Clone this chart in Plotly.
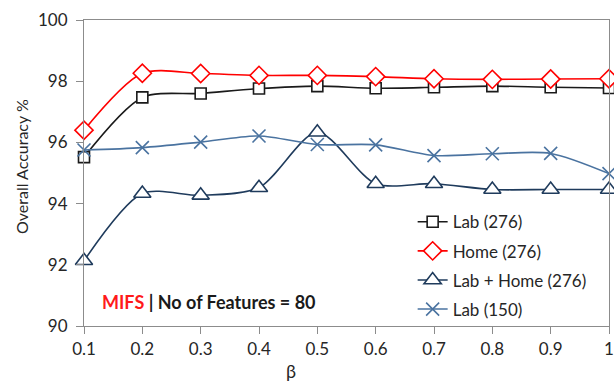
import plotly.graph_objects as go

# beta values on the x axis
beta = [0.1, 0.2, 0.3, 0.4, 0.5, 0.6, 0.7, 0.8, 0.9, 1.0]

# overall accuracy (%) for each data set
lab_276 = [95.52, 97.47, 97.60, 97.76, 97.84, 97.77, 97.80, 97.84, 97.80, 97.78]
home_276 = [96.40, 98.26, 98.25, 98.19, 98.19, 98.15, 98.08, 98.06, 98.07, 98.08]
lab_home_276 = [92.13, 94.33, 94.27, 94.52, 96.33, 94.65, 94.65, 94.46, 94.46, 94.46]
lab_150 = [95.75, 95.83, 96.01, 96.21, 95.93, 95.92, 95.57, 95.63, 95.64, 94.98]

series_names = ["Lab (276)", "Home (276)", "Lab + Home (276)", "Lab (150)"]
y_ticks = [90, 92, 94, 96, 98, 100]
x_ticks = [0.1, 0.2, 0.3, 0.4, 0.5, 0.6, 0.7, 0.8, 0.9, 1.0]
x_tick_labels = ["0.1", "0.2", "0.3", "0.4", "0.5", "0.6", "0.7", "0.8", "0.9", "1"]

FONT = "Lato, 'Open Sans', sans-serif"

styles = [
    dict(color="#1a1a1a", symbol="square", size=11),
    dict(color="#ff0000", symbol="diamond", size=14),
    dict(color="#1f3b5c", symbol="triangle-up", size=15),
    dict(color="#4a73a0", symbol="x-thin", size=13),
]

fig = go.Figure()
for name, values, st in zip(series_names, [lab_276, home_276, lab_home_276, lab_150], styles):
    open_marker = st["symbol"] != "x-thin"
    fig.add_trace(go.Scatter(
        x=beta, y=values, name=name, mode="lines+markers",
        line=dict(color=st["color"], width=1.6, shape="spline", smoothing=0.8),
        marker=dict(symbol=st["symbol"], size=st["size"],
                    color="white" if open_marker else st["color"],
                    line=dict(color=st["color"], width=1.6)),
        cliponaxis=False,
        legendgroup=name,
    ))

fig.update_layout(
    width=614, height=385,
    margin=dict(l=84, r=0, t=20, b=59),
    paper_bgcolor="white", plot_bgcolor="white",
    font=dict(family=FONT, size=17, color="#262626"),
    showlegend=True,
    legend=dict(x=0.626, y=0.398, xanchor="left", yanchor="top",
                bgcolor="rgba(0,0,0,0)", font=dict(size=17, color="#262626"),
                tracegroupgap=4, itemwidth=30),
    xaxis=dict(range=[0.1, 1.0], tickvals=x_ticks, ticktext=x_tick_labels,
               showgrid=False, zeroline=False, showline=True, linecolor="#8c8c8c",
               linewidth=1.2, mirror=True, ticks="outside", ticklen=7,
               tickcolor="#8c8c8c", ticklabeloverflow="allow",
               tickfont=dict(size=17, color="#262626")),
    yaxis=dict(range=[90, 100], tickvals=y_ticks, showgrid=False, zeroline=False,
               showline=True, linecolor="#8c8c8c", linewidth=1.2, mirror=True,
               ticks="outside", ticklen=7, tickcolor="#8c8c8c", ticklabelstandoff=5,
               tickfont=dict(size=17, color="#262626")),
    annotations=[
        dict(text="Overall Accuracy %", xref="paper", yref="paper",
             x=-0.12, y=(326 - 167) / 306, xanchor="center", yanchor="middle",
             textangle=-90, showarrow=False, font=dict(size=16, color="#262626")),
        dict(text="β", xref="paper", yref="paper", x=(293 - 84) / 530,
             y=(326 - 371) / 306, xanchor="center", yanchor="middle", showarrow=False,
             font=dict(size=18, color="#262626")),
        dict(text="<b><span style='color:#ff1a1a'>MIFS</span> | No of Features = 80</b>",
             xref="paper", yref="paper", x=16 / 530, y=(326 - 302) / 306,
             xanchor="left", yanchor="middle", showarrow=False,
             font=dict(size=18, color="#1a1a1a")),
    ],
)

fig.write_html("out.html")
